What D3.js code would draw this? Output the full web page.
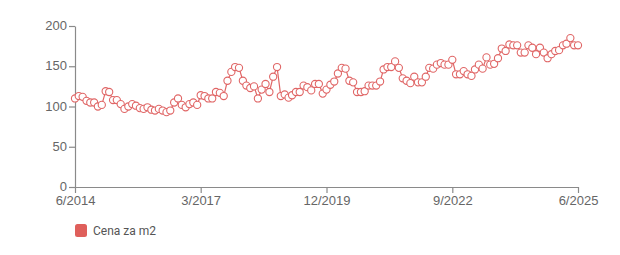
<!DOCTYPE html>
<html>
<head>
<meta charset="utf-8">
<script src="https://cdn.jsdelivr.net/npm/d3@7"></script>
<style>
  body { margin: 0; background: #fff; }
  svg { display: block; font-family: Roboto, "Noto Sans", sans-serif; }
</style>
</head>
<body>
<script>
// monthly series, first month 6/2014
const startMonth = new Date(2014, 5, 1);
const prices = [
  110, 113, 112, 107, 105, 105, 100, 102, 119, 118, 108, 108, 103, 97, 100, 103,
  101, 98, 97, 99, 96, 95, 97, 95, 93, 95, 105, 110, 102, 99, 103, 105,
  102, 114, 113, 110, 110, 118, 117, 113, 132, 143, 149, 148, 132, 126, 123, 125,
  110, 121, 128, 118, 137, 149, 113, 115, 111, 114, 118, 118, 126, 124, 120, 128,
  128, 116, 121, 127, 131, 141, 148, 147, 132, 130, 118, 118, 119, 126, 126, 126,
  131, 146, 149, 149, 156, 148, 135, 132, 129, 137, 130, 130, 137, 148, 147, 152,
  154, 152, 152, 158, 140, 140, 144, 140, 138, 146, 152, 147, 161, 152, 153, 160,
  172, 169, 177, 176, 176, 167, 167, 176, 173, 165, 173, 167, 160, 165, 169, 170,
  176, 178, 185, 176, 176
];
const xTickLabels = ["6/2014", "3/2017", "12/2019", "9/2022", "6/2025"];
const yTicks = [0, 50, 100, 150, 200];
const seriesName = "Cena za m2";

const lineColor = "#e06666";
const axisColor = "#8a8a8a";
const textColor = "#666";

const width = 620, height = 255;
const margin = { top: 26, right: 42, bottom: 68, left: 75 };

const parseTick = d3.timeParse("%m/%Y");
const data = prices.map((v, i) => ({ date: d3.timeMonth.offset(startMonth, i), value: v }));

const svg = d3.select("body")
  .append("svg")
  .attr("width", width)
  .attr("height", height);

const x = d3.scaleTime()
  .domain([startMonth, data[data.length - 1].date])
  .range([margin.left, width - margin.right]);

const y = d3.scaleLinear()
  .domain([0, 200])
  .range([height - margin.bottom, margin.top]);

// y axis
const yAxis = svg.append("g")
  .attr("transform", "translate(" + margin.left + ",0)")
  .call(d3.axisLeft(y).tickValues(yTicks).tickSize(6).tickPadding(2).tickSizeOuter(0));

// x axis
const xAxis = svg.append("g")
  .attr("transform", "translate(0," + (height - margin.bottom) + ")")
  .call(d3.axisBottom(x)
    .tickValues(xTickLabels.map(parseTick))
    .tickFormat(d3.timeFormat("%-m/%Y"))
    .tickSize(6).tickPadding(3).tickSizeOuter(0));

[yAxis, xAxis].forEach(ax => {
  ax.select(".domain").attr("stroke", axisColor).attr("stroke-width", 1.2);
  ax.selectAll(".tick line").attr("stroke", axisColor).attr("stroke-width", 1.2);
  ax.selectAll(".tick text")
    .attr("fill", textColor)
    .style("font-size", "13px");
});
// keep the "0" label clear of the first date label
yAxis.selectAll(".tick text").attr("dy", "0.28em");

// line
svg.append("path")
  .datum(data)
  .attr("fill", "none")
  .attr("stroke", lineColor)
  .attr("stroke-width", 1.2)
  .attr("d", d3.line().x(d => x(d.date)).y(d => y(d.value)));

// points
svg.append("g")
  .selectAll("circle")
  .data(data)
  .join("circle")
  .attr("cx", d => x(d.date))
  .attr("cy", d => y(d.value))
  .attr("r", 3.6)
  .attr("fill", "#fff")
  .attr("stroke", lineColor)
  .attr("stroke-width", 1.1);

// legend
const legend = svg.append("g").attr("transform", "translate(75,224)");
legend.append("rect")
  .attr("width", 12)
  .attr("height", 13)
  .attr("rx", 2.5)
  .attr("fill", "#df5f5b");
legend.append("text")
  .attr("x", 18)
  .attr("y", 7)
  .attr("dy", "0.35em")
  .attr("fill", "#555")
  .style("font-size", "12px")
  .text(seriesName);
</script>
</body>
</html>
